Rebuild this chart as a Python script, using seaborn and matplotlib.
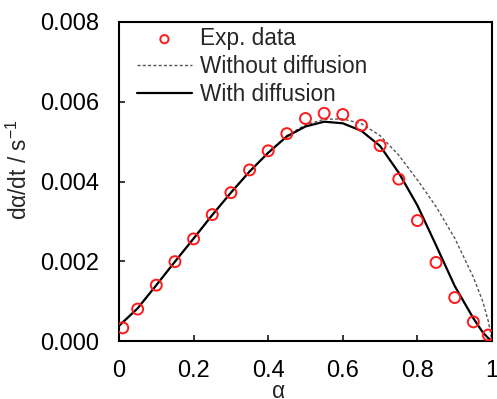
import matplotlib
matplotlib.use("Agg")
import matplotlib.pyplot as plt
import seaborn as sns
import pandas as pd

# ---- data ----
alpha_exp = [0.01, 0.05, 0.10, 0.15, 0.20, 0.25, 0.30, 0.35, 0.40, 0.45, 0.50,
             0.55, 0.60, 0.65, 0.70, 0.75, 0.80, 0.85, 0.90, 0.95, 0.99]
rate_exp = [0.00033, 0.00080, 0.00140, 0.00199, 0.00256, 0.00317, 0.00372, 0.00429,
            0.00477, 0.00520, 0.00558, 0.00571, 0.00568, 0.00541, 0.00490, 0.00406,
            0.00302, 0.00197, 0.00109, 0.00048, 0.00015]

alpha_model = [0.0, 0.05, 0.10, 0.15, 0.20, 0.25, 0.30, 0.35, 0.40, 0.45, 0.50,
               0.55, 0.60, 0.65, 0.70, 0.75, 0.80, 0.85, 0.90, 0.95, 0.975, 0.99, 1.0]
rate_with_diff = [0.00038, 0.00082, 0.00140, 0.00199, 0.00257, 0.00316, 0.00372, 0.00425,
                  0.00472, 0.00513, 0.00538, 0.00550, 0.00546, 0.00527, 0.00489, 0.00422,
                  0.00340, 0.00240, 0.00138, 0.00057, 0.00022, 0.00007, 0.0]
rate_without_diff = [0.00038, 0.00082, 0.00140, 0.00199, 0.00257, 0.00316, 0.00372, 0.00425,
                     0.00473, 0.00515, 0.00542, 0.00556, 0.00557, 0.00545, 0.00515, 0.00466,
                     0.00404, 0.00337, 0.00258, 0.00160, 0.00100, 0.00050, 0.0]

x_ticks = [0, 0.2, 0.4, 0.6, 0.8, 1.0]
x_ticklabels = ["0", "0.2", "0.4", "0.6", "0.8", "1"]
y_ticks = [0.000, 0.002, 0.004, 0.006, 0.008]
y_ticklabels = ["0.000", "0.002", "0.004", "0.006", "0.008"]

label_exp = "Exp. data"
label_without = "Without diffusion"
label_with = "With diffusion"

# ---- style ----
sns.set_style("ticks")
plt.rcParams["font.family"] = ["Liberation Sans", "DejaVu Sans"]
plt.rcParams["mathtext.fontset"] = "custom"
plt.rcParams["mathtext.rm"] = "Liberation Sans"
plt.rcParams["mathtext.it"] = "Liberation Sans"

FS_TICK = 17
FS = 16.3
fig = plt.figure(figsize=(4.97, 3.99), dpi=100)
ax = fig.add_axes([119 / 497, 1 - 341 / 399, (492 - 119) / 497, (341 - 22) / 399])

df_exp = pd.DataFrame({"a": alpha_exp, "r": rate_exp})
df_mod = pd.DataFrame({"a": alpha_model, "w": rate_with_diff, "wo": rate_without_diff})

sns.lineplot(data=df_mod, x="a", y="wo", ax=ax, color="#555555", lw=1.0,
             linestyle=(0, (2.2, 1.6)), estimator=None, sort=False, label=label_without, zorder=2)
sns.lineplot(data=df_mod, x="a", y="w", ax=ax, color="black", lw=1.6,
             estimator=None, sort=False, label=label_with, zorder=3)
sns.scatterplot(data=df_exp, x="a", y="r", ax=ax, marker="o", s=62,
                facecolors="none", edgecolor="#ff1a1a", linewidth=1.4,
                label=label_exp, zorder=4)

ax.set_xlim(0, 1)
ax.set_ylim(0, 0.008)
ax.set_xticks(x_ticks)
ax.set_xticklabels(x_ticklabels)
ax.set_yticks(y_ticks)
ax.set_yticklabels(y_ticklabels)
ax.tick_params(direction="in", length=4.5, width=1.1, labelsize=FS_TICK, pad=14,
               colors="black", top=False, right=False)
for sp in ax.spines.values():
    sp.set_visible(True)
    sp.set_linewidth(1.5)
    sp.set_color("black")

ax.set_xlabel("α", fontsize=FS, labelpad=0)
ax.xaxis.set_label_coords(0.427, -0.122)
ax.set_ylabel("dα/dt / s$^{\\mathregular{-1}}$", fontsize=FS, labelpad=0)
ax.yaxis.set_label_coords(-0.233, 0.536)

handles, labels = ax.get_legend_handles_labels()
hmap = dict(zip(labels, handles))
order = [label_exp, label_without, label_with]
leg = ax.legend([hmap[k] for k in order], order, loc="upper left",
                bbox_to_anchor=(0.049, 0.984), frameon=False, fontsize=FS,
                handlelength=2.4, handletextpad=0.35, labelspacing=0.21,
                borderpad=0.0, borderaxespad=0.0, markerscale=0.75)

fig.savefig("out.png", dpi=100)
